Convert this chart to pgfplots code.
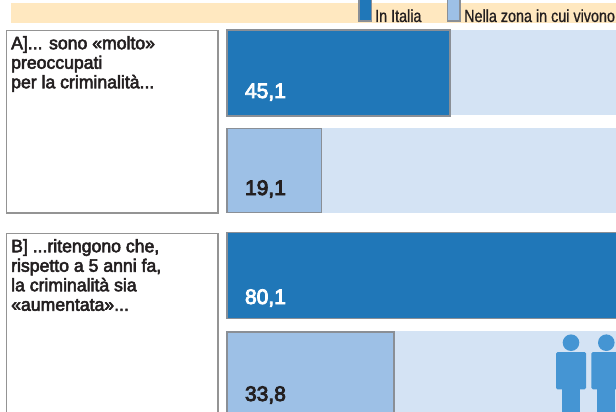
\documentclass[border=0pt]{standalone}
\usepackage{fontspec}
\setmainfont{Liberation Sans}
\newfontfamily\boxfont[FakeBold=3,FakeStretch=0.98]{Liberation Sans}
\newfontfamily\valfont[FakeBold=4]{Liberation Sans}
\newfontfamily\legfont[FakeStretch=0.82,FakeBold=0.8]{Liberation Sans}
\usepackage{pgfplots}
\pgfplotsset{compat=1.18}
\definecolor{dk}{HTML}{2077B8}
\definecolor{lt}{HTML}{9DC0E6}
\definecolor{bgb}{HTML}{D4E3F4}
\definecolor{beige}{HTML}{FFE8C0}
\definecolor{edge}{HTML}{8A8F96}
\definecolor{boxedge}{HTML}{949494}
\definecolor{person}{HTML}{4595D3}
\definecolor{ink}{HTML}{231F20}
\newcommand{\person}[1]{%
  \fill[person] (axis cs:{(#1+15-227)/4.95},342.7) circle[radius=8.3pt];
  \fill[person,rounded corners=1.5pt] (axis cs:{(#1-227)/4.95},352) rectangle (axis cs:{(#1+30-227)/4.95},389.3);
  \fill[person] (axis cs:{(#1+6-227)/4.95},385) rectangle (axis cs:{(#1+24-227)/4.95},420);
}
\begin{document}
\begin{tikzpicture}[x=1pt,y=1pt]
\useasboundingbox (0,0) rectangle (616,412);
\clip (0,0) rectangle (616,412);
\begin{axis}[
  at={(0,0)},anchor=south west,
  scale only axis,width=616pt,height=412pt,
  xmin=-45.859,xmax=78.586,ymin=0,ymax=412,y dir=reverse,
  hide axis,clip=true,xbar,
  bar shift=0pt,
]
% pale band
\fill[beige] (axis cs:-43.6,3) rectangle (axis cs:78.6,23);
% pale tracks
\addplot[xbar,bar width=85pt,fill=bgb,draw=none] coordinates {(100,72.5)};
\addplot[xbar,bar width=85pt,fill=bgb,draw=none] coordinates {(100,170.5)};
\addplot[xbar,bar width=86pt,fill=bgb,draw=none] coordinates {(100,275)};
\addplot[xbar,bar width=87pt,fill=bgb,draw=none] coordinates {(100,374.5)};
\person{556}
\person{591.3}
% values
\addplot[xbar,bar width=86pt,fill=dk,draw=edge,line width=1.8pt] coordinates {(45.1,73)};
\addplot[xbar,bar width=84pt,fill=lt,draw=edge,line width=1.8pt] coordinates {(19.1,170.5)};
\addplot[xbar,bar width=86pt,fill=dk,draw=edge,line width=1.8pt] coordinates {(80.1,275.5)};
\addplot[xbar,bar width=86pt,fill=lt,draw=edge,line width=1.8pt] coordinates {(33.8,375)};
\node[anchor=base west,inner sep=0pt,text=white,font=\valfont\fontsize{21}{21}\selectfont] at (axis cs:3.6,98) {45,1};
\node[anchor=base west,inner sep=0pt,text=ink,font=\valfont\fontsize{21}{21}\selectfont] at (axis cs:3.6,195) {19,1};
\node[anchor=base west,inner sep=0pt,text=white,font=\valfont\fontsize{21}{21}\selectfont] at (axis cs:3.6,304) {80,1};
\node[anchor=base west,inner sep=0pt,text=ink,font=\valfont\fontsize{21}{21}\selectfont] at (axis cs:3.6,401) {33,8};
\end{axis}
% question boxes
\draw[boxedge,line width=1.4pt,fill=white] (6.7,412-30.8) rectangle (218,412-213);
\draw[boxedge,line width=1.4pt,fill=white] (6.7,412-233.7) rectangle (218,-10);
\node[anchor=north west,inner sep=0pt,text=ink,align=left,font=\boxfont\fontsize{18}{19.5}\selectfont] at (11,412-36) {A]... sono «molto»\\preoccupati\\per la criminalità...};
\node[anchor=north west,inner sep=0pt,text=ink,align=left,font=\boxfont\fontsize{18}{19.5}\selectfont] at (11,412-239) {B] ...ritengono che,\\rispetto a 5 anni fa,\\la criminalità sia\\«aumentata»...};
% legend
\draw[edge,line width=1.6pt,fill=dk] (358.8,412+2) rectangle (371.5,412-21.3);
\draw[edge,line width=1.6pt,fill=lt] (447.5,412+2) rectangle (460,412-21.3);
\node[anchor=base west,inner sep=0pt,text=ink,font=\legfont\fontsize{17.5}{18}\selectfont] at (375,412-22) {In Italia};
\node[anchor=base west,inner sep=0pt,text=ink,font=\legfont\fontsize{17.5}{18}\selectfont] at (464,412-22) {Nella zona in cui vivono};
\end{tikzpicture}
\end{document}
